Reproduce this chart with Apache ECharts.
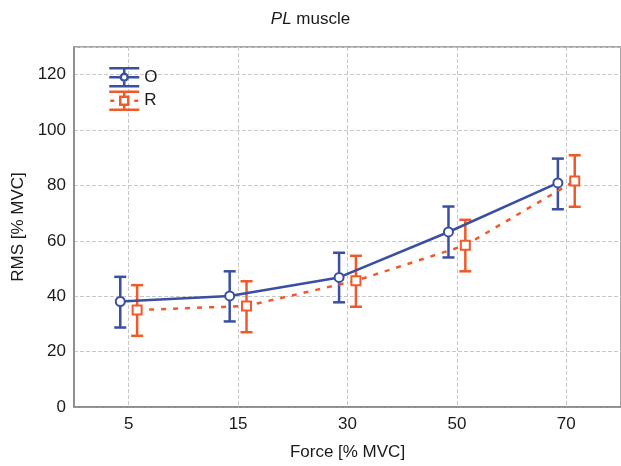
<!DOCTYPE html>
<html>
<head>
<meta charset="utf-8">
<script src="https://cdn.jsdelivr.net/npm/echarts@6/dist/echarts.min.js"></script>
<style>
  html, body { margin: 0; padding: 0; background: #fff; }
  #chart { width: 621px; height: 466px; }
</style>
</head>
<body>
<div id="chart"></div>
<script>
// force levels
const categories = ['5', '15', '30', '50', '70']
// O group
const oMean = [38.1, 40.1, 46.8, 63.2, 80.9]
const oHigh = [47.0, 49.0, 55.7, 72.4, 89.7]
const oLow = [28.7, 30.9, 37.8, 54.0, 71.4]
// R group
const rMean = [35.0, 36.5, 45.6, 58.4, 81.6]
const rHigh = [44.0, 45.4, 54.6, 67.6, 90.9]
const rLow = [25.7, 27.0, 36.2, 49.0, 72.3]

const blue = '#3a4fa2'
const orange = '#f05a2a'
const shift = 0.077 // small side offset so the two groups don't overlap

const points = (vals, off) => vals.map((v, i) => [i + off, v])
const bars = (lo, hi, off) => lo.map((v, i) => [i + off, v, hi[i]])

const errorBars = (color) => (params, api) => {
  const x = api.value(0)
  const top = api.coord([x, api.value(2)])
  const bot = api.coord([x, api.value(1)])
  const w = 6
  const style = { stroke: color, lineWidth: 2.5 }
  return {
    type: 'group',
    children: [
      { type: 'line', shape: { x1: top[0], y1: top[1], x2: bot[0], y2: bot[1] }, style },
      { type: 'line', shape: { x1: top[0] - w, y1: top[1], x2: top[0] + w, y2: top[1] }, style },
      { type: 'line', shape: { x1: bot[0] - w, y1: bot[1], x2: bot[0] + w, y2: bot[1] }, style }
    ]
  }
}

// legend glyphs: error bar with marker in the middle
const iconO = 'path://M0,0 L30,0 M0,18 L30,18 M15,0 L15,5.5 M15,12.5 L15,18 M0,9 L11.5,9 M18.5,9 L30,9 ' +
  'M18.5,9 A3.5,3.5 0 1,1 11.5,9 A3.5,3.5 0 1,1 18.5,9 Z'
const iconR = 'path://M0,0 L30,0 M0,18 L30,18 M15,0 L15,5 M15,13 L15,18 M1,9 L5,9 M25,9 L29,9 ' +
  'M11,5 L19,5 L19,13 L11,13 Z'

const chart = echarts.init(document.getElementById('chart'))
const font = 'Liberation Sans, Arial, sans-serif'
const grid = { type: 'dashed', color: '#c8c8c8', width: 1 }

chart.setOption({
  animation: false,
  textStyle: { fontFamily: font },
  title: {
    text: '{i|PL} muscle',
    left: 'center',
    top: 6,
    textStyle: {
      fontSize: 17,
      fontWeight: 'normal',
      color: '#1a1a1a',
      rich: { i: { fontStyle: 'italic', fontSize: 17, color: '#1a1a1a' } }
    }
  },
  legend: {
    orient: 'vertical',
    left: 103,
    top: 62,
    itemWidth: 30,
    itemHeight: 18,
    itemGap: 3,
    data: [
      { name: 'O', icon: iconO, itemStyle: { color: '#fff', borderColor: blue, borderWidth: 2.5 } },
      { name: 'R', icon: iconR, itemStyle: { color: '#fff', borderColor: orange, borderWidth: 2.5 } }
    ],
    textStyle: { fontSize: 17, color: '#1a1a1a' }
  },
  grid: {
    left: 74,
    top: 47,
    width: 550,
    height: 362,
    show: true,
    borderColor: '#888',
    borderWidth: 1.5
  },
  xAxis: [
    {
      type: 'category',
      data: categories,
      boundaryGap: true,
      name: 'Force [% MVC]',
      nameLocation: 'middle',
      nameGap: 37,
      nameTextStyle: { fontSize: 17, color: '#1a1a1a' },
      axisLine: { lineStyle: { color: '#888', width: 1.5 } },
      axisTick: { inside: true, alignWithLabel: true, length: 4, lineStyle: { color: '#444' } },
      axisLabel: { fontSize: 17, color: '#1a1a1a', margin: 9 },
      splitLine: { show: true, alignWithLabel: true, lineStyle: grid }
    },
    { type: 'value', min: -0.5, max: 4.5, show: false }
  ],
  yAxis: {
    type: 'value',
    min: 0,
    max: 130,
    interval: 20,
    name: 'RMS [% MVC]',
    nameLocation: 'middle',
    nameGap: 38,
    nameTextStyle: { fontSize: 17, color: '#1a1a1a' },
    axisLine: { show: true, onZero: false, lineStyle: { color: '#888', width: 1.5 } },
    axisTick: { show: false },
    axisLabel: { fontSize: 17, color: '#1a1a1a', margin: 8, showMaxLabel: false },
    splitLine: { show: true, lineStyle: grid }
  },
  series: [
    {
      name: 'O err',
      type: 'custom',
      xAxisIndex: 1,
      z: 1,
      renderItem: errorBars(blue),
      encode: { x: 0, y: [1, 2] },
      data: bars(oLow, oHigh, -shift)
    },
    {
      name: 'R err',
      type: 'custom',
      xAxisIndex: 1,
      z: 1,
      renderItem: errorBars(orange),
      encode: { x: 0, y: [1, 2] },
      data: bars(rLow, rHigh, shift)
    },
    {
      name: 'O',
      type: 'line',
      xAxisIndex: 1,
      z: 3,
      data: points(oMean, -shift),
      symbol: 'circle',
      symbolSize: 9,
      color: blue,
      lineStyle: { color: blue, width: 2.5 },
      itemStyle: { color: '#fff', borderColor: blue, borderWidth: 2 }
    },
    {
      name: 'R',
      type: 'line',
      xAxisIndex: 1,
      z: 3,
      data: points(rMean, shift),
      symbol: 'rect',
      symbolSize: 9,
      color: orange,
      lineStyle: { color: orange, width: 2.5, type: [5, 7] },
      itemStyle: { color: '#fff', borderColor: orange, borderWidth: 2 }
    }
  ]
})
</script>
</body>
</html>
